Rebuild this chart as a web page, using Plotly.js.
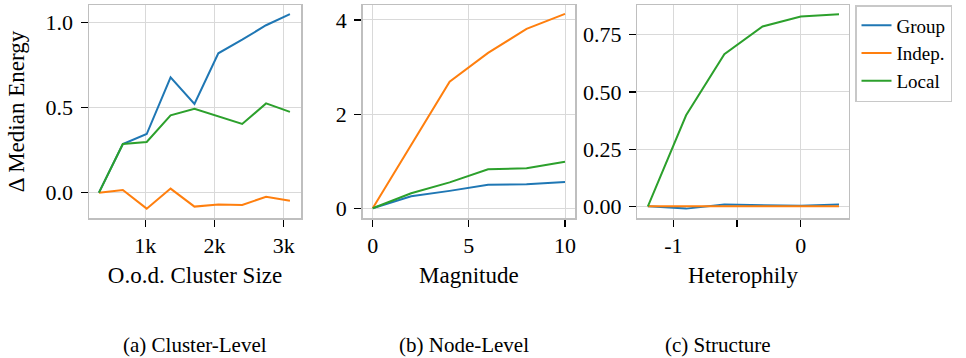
<!DOCTYPE html>
<html>
<head>
<meta charset="utf-8">
<script src="https://cdn.plot.ly/plotly-3.0.1.min.js"></script>
</head>
<body style="margin:0">
<div id="chart"></div>
<script>
// ---- data ----
const seriesNames = ["Group", "Indep.", "Local"];
const seriesColors = ["#1f77b4", "#ff7f0e", "#2ca02c"];

// (a) Cluster-Level
const clusterSize = [330, 675, 1020, 1365, 1710, 2055, 2400, 2745, 3090];
const clusterGroup = [0.0, 0.286, 0.345, 0.678, 0.522, 0.82, 0.90, 0.985, 1.05];
const clusterIndep = [0.0, 0.016, -0.094, 0.024, -0.082, -0.07, -0.072, -0.024, -0.047];
const clusterLocal = [0.0, 0.286, 0.298, 0.455, 0.494, 0.447, 0.404, 0.525, 0.475];

// (b) Node-Level
const magnitude = [0, 2, 4, 6, 8, 10];
const nodeGroup = [0.0, 0.255, 0.37, 0.50, 0.51, 0.56];
const nodeIndep = [0.0, 1.34, 2.69, 3.30, 3.81, 4.13];
const nodeLocal = [0.0, 0.32, 0.55, 0.83, 0.85, 0.99];

// (c) Structure
const heterophily = [-1.2, -0.9, -0.6, -0.3, 0.0, 0.3];
const structGroup = [0.0, -0.01, 0.008, 0.004, 0.002, 0.008];
const structIndep = [0.0, 0.0, 0.0, 0.0, 0.0, 0.0];
const structLocal = [0.0, 0.398, 0.665, 0.786, 0.83, 0.84];

// tick labels
const xTicks1 = [1000, 2000, 3000], xTickText1 = ["1k", "2k", "3k"];
const yTicks1 = [0, 0.5, 1.0], yTickText1 = ["0.0", "0.5", "1.0"];
const xTicks2 = [0, 5, 10], xTickText2 = ["0", "5", "10"];
const yTicks2 = [0, 2, 4], yTickText2 = ["0", "2", "4"];
const xTicks3 = [-1, -0.5, 0], xTickText3 = ["-1", "", "0"];
const yTicks3 = [0, 0.25, 0.5, 0.75], yTickText3 = ["0.00", "0.25", "0.50", "0.75"];

const captions = ["(a) Cluster-Level", "(b) Node-Level", "(c) Structure"];
const xTitles = ["O.o.d. Cluster Size", "Magnitude", "Heterophily"];
const yTitle = "Δ Median Energy";

// ---- build ----
const FONT = "Liberation Serif";
const INK = "#000";
const panels = [
  {x: clusterSize, ys: [clusterGroup, clusterIndep, clusterLocal], xa: "x", ya: "y"},
  {x: magnitude, ys: [nodeGroup, nodeIndep, nodeLocal], xa: "x2", ya: "y2"},
  {x: heterophily, ys: [structGroup, structIndep, structLocal], xa: "x3", ya: "y3"}
];
const traces = [];
panels.forEach((p, pi) => {
  p.ys.forEach((ys, si) => {
    traces.push({
      type: "scatter", mode: "lines", x: p.x, y: ys, xaxis: p.xa, yaxis: p.ya,
      name: seriesNames[si], legendgroup: seriesNames[si], showlegend: pi === 0,
      line: {color: seriesColors[si], width: 2}, hoverinfo: "skip"
    });
  });
});

const W = 966, H = 358;
const yDom = [(H - 218) / H, (H - 5) / H];
function axis(dom, range, tv, tt, title, isY) {
  const a = {
    domain: dom, range: range, tickmode: "array", tickvals: tv, ticktext: tt,
    showline: true, mirror: true, linecolor: "#bfbfbf", linewidth: 1.5,
    showgrid: true, gridcolor: "#d9d9d9", gridwidth: 1, zeroline: false,
    ticks: "outside", ticklen: 7, tickwidth: 1.2, tickcolor: INK,
    ticklabelstandoff: isY ? 3 : 0,
    tickfont: {family: FONT, size: 22, color: INK}
  };
  if (title) a.title = {text: title, font: {family: FONT, size: 23, color: INK}, standoff: isY ? 14 : 10};
  return a;
}
const layout = {
  width: W, height: H, margin: {l: 0, r: 0, t: 0, b: 0},
  xaxis: Object.assign(axis([89 / W, 301 / W], [186, 3250], xTicks1, xTickText1, xTitles[0], false), {anchor: "y"}),
  yaxis: Object.assign(axis(yDom, [-0.149, 1.104], yTicks1, yTickText1, yTitle, true), {anchor: "x"}),
  xaxis2: Object.assign(axis([362.7 / W, 575 / W], [-0.52, 10.52], xTicks2, xTickText2, xTitles[1], false), {anchor: "y2"}),
  yaxis2: Object.assign(axis(yDom, [-0.206, 4.318], yTicks2, yTickText2, null, true), {anchor: "x2"}),
  xaxis3: Object.assign(axis([637.3 / W, 848.7 / W], [-1.283, 0.376], xTicks3, xTickText3, xTitles[2], false), {anchor: "y3"}),
  yaxis3: Object.assign(axis(yDom, [-0.051, 0.88], yTicks3, yTickText3, null, true), {anchor: "x3"}),
  showlegend: true,
  legend: {
    x: 855 / W, y: 1 - 5 / H, xanchor: "left", yanchor: "top",
    bordercolor: "#c8c8c8", borderwidth: 1.5, bgcolor: "#fff",
    font: {family: FONT, size: 19, color: INK}, itemwidth: 30, tracegroupgap: 0
  },
  annotations: [
    {text: captions[0], x: 195 / W},
    {text: captions[1], x: 464 / W},
    {text: captions[2], x: 718 / W}
  ].map(a => Object.assign(a, {xref: "paper", yref: "paper", xanchor: "center", y: 0, yanchor: "bottom",
    borderpad: 0, showarrow: false, font: {family: FONT, size: 21, color: INK}}))
};
Plotly.newPlot("chart", traces, layout, {staticPlot: true});
</script>
</body>
</html>
